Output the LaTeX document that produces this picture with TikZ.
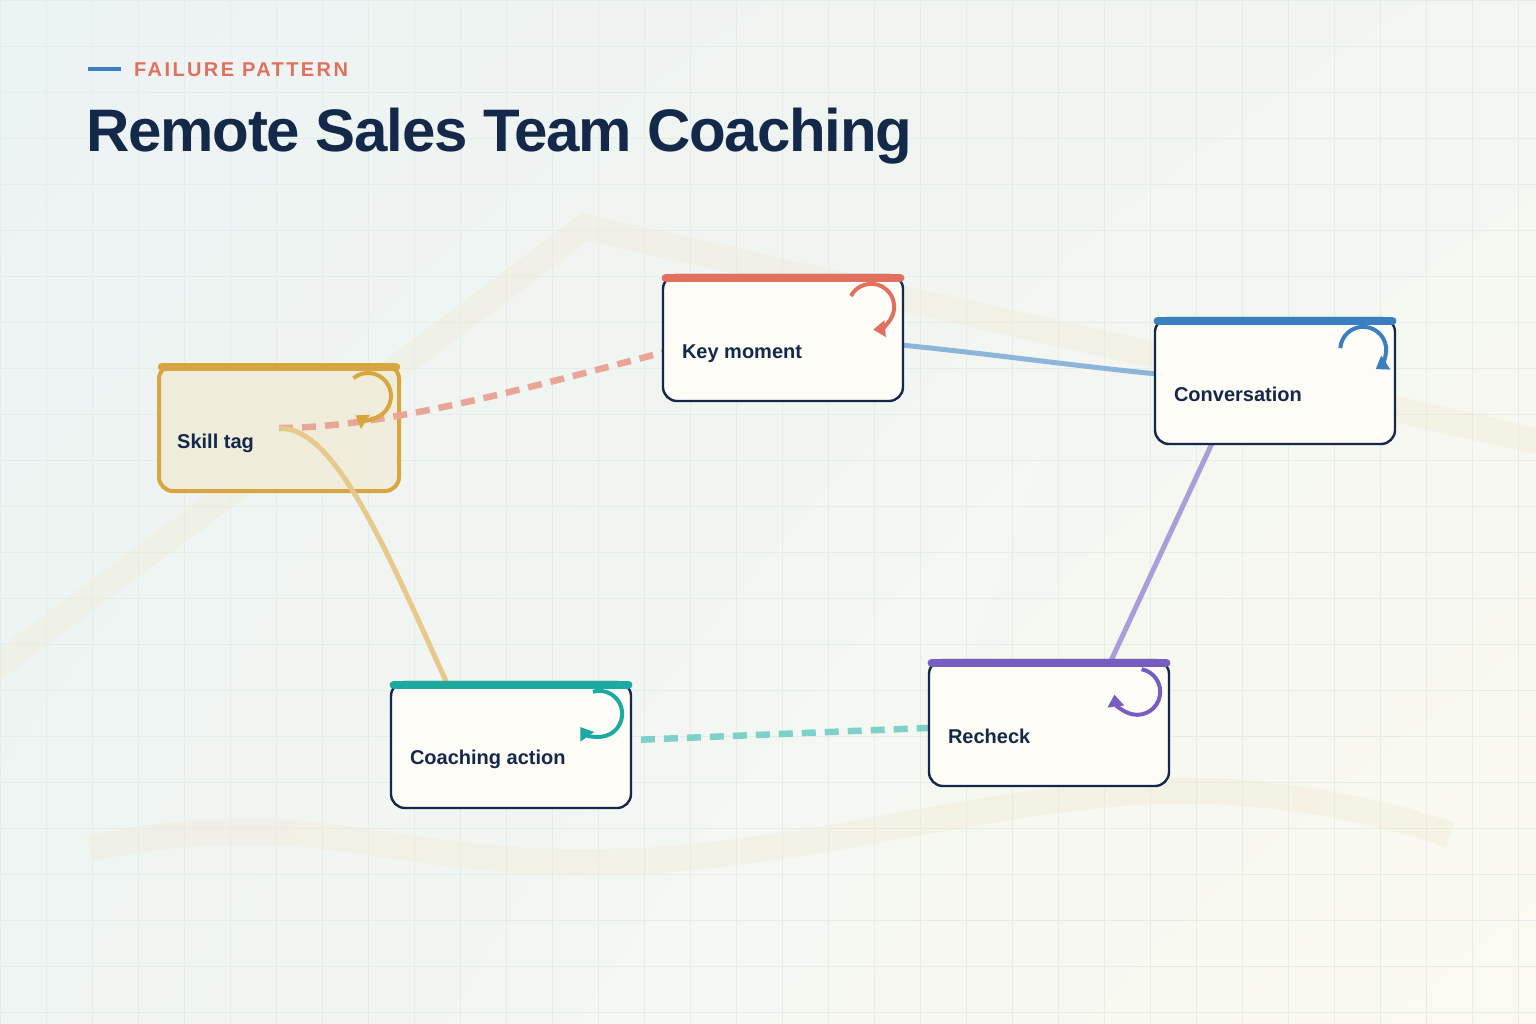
\documentclass[tikz,border=0pt]{standalone}
\usepackage{fontspec}
\setmainfont{Liberation Sans}
\usetikzlibrary{arrows.meta,shadings}

\definecolor{ink}{HTML}{14284A}
\definecolor{cardfill}{HTML}{FDFCF6}
\definecolor{kmred}{HTML}{E2705F}
\definecolor{convblue}{HTML}{3A7FC0}
\definecolor{coachteal}{HTML}{1BAA9F}
\definecolor{rcpurple}{HTML}{775DBF}
\definecolor{skillgold}{HTML}{D8A640}
\definecolor{skillfill}{HTML}{F1EBD7}
\definecolor{salmonlt}{HTML}{E9A696}
\definecolor{bluelt}{HTML}{8DB5DA}
\definecolor{lavlt}{HTML}{AA9DD9}
\definecolor{teallt}{HTML}{7ED1C8}
\definecolor{goldlt}{HTML}{E6C98B}
\definecolor{bandc}{HTML}{F1E9D0}
\definecolor{gridc}{HTML}{E5EDEB}
\definecolor{bgtl}{HTML}{ECF3F3}
\definecolor{bgtr}{HTML}{F3F6F1}
\definecolor{bgbl}{HTML}{EFF5F2}
\definecolor{bgbr}{HTML}{FBFAF1}

\pgfdeclarelayer{bgl}
\pgfdeclarelayer{links}
\pgfsetlayers{bgl,links,main}

\tikzset{
  card/.style={draw=ink, line width=2.4pt, fill=cardfill, rounded corners=14pt,
    minimum width=240pt, minimum height=126pt, inner sep=0pt},
  skillcard/.style={card, draw=skillgold, line width=4pt, fill=skillfill, fill opacity=.8},
  lbl/.style={font=\bfseries\fontsize{20}{22}\selectfont, text=ink, anchor=base west, inner sep=0pt},
  topbar/.style={line width=8.5pt, line cap=round},
  cyc/.style={line width=4pt, -{Triangle[length=12pt,width=16pt]}},
  link/.style={line width=5pt},
  dashlink/.style={line width=6.5pt, dash pattern=on 14pt off 9pt},
  band/.style={line width=26pt, draw=bandc, draw opacity=.35},
  gridline/.style={draw=gridc, line width=.6pt},
}

% circular arrow in the top right corner of a card
\newcommand{\cycicon}[4]{%
  \draw[cyc, #4] ([shift={(-33,33)}]#1.north east) ++(#2:23) arc[start angle=#2, end angle=#3, radius=23];}

\begin{document}
\begin{tikzpicture}[x=1pt, y=-1pt]
    \useasboundingbox (0,0) rectangle (1536,1024);

    % background, grid and soft bands
    \begin{pgfonlayer}{bgl}
    \shade[upper left=bgtl, upper right=bgtr, lower left=bgbl, lower right=bgbr] (0,0) rectangle (1536,1024);
    \foreach \i in {0,...,33} {
        \draw[gridline] (\i*46,0) -- (\i*46,1024);
    }
    \foreach \j in {0,...,22} {
        \draw[gridline] (0,\j*46) -- (1536,\j*46);
    }
    \draw[band] (-10,672) -- (585,227) -- (1550,444);
    \draw[band] plot[smooth, tension=.7] coordinates {(90,849) (265,832) (637,861) (1160,791) (1450,835)};

    % faded card sits under the links
    \node[skillcard] (skill) at (279,428) {};
    \end{pgfonlayer}

    % header
    \draw[line width=4pt, convblue] (88,69) -- (121,69);
    \node[anchor=base west, inner sep=0pt, text=kmred, font=\bfseries\fontsize{20}{22}\selectfont\addfontfeatures{LetterSpace=12}] (kicker) at (134,77) {FAILURE PATTERN};
    \node[anchor=base west, inner sep=0pt, text=ink, font=\bfseries\fontsize{60}{64}\selectfont\addfontfeatures{LetterSpace=-2}] (title) at (86,152) {Remote Sales Team Coaching};

    % cards
    \node[card] (km) at (783,338) {};
    \node[card] (conv) at (1275,381) {};
    \node[card] (coach) at (511,745) {};
    \node[card] (rc) at (1049,723) {};

    % links
    \begin{pgfonlayer}{links}
    \draw[link, bluelt] (km.center) to[out=0, in=180, looseness=.7] (conv.center);
    \draw[dashlink, salmonlt] (skill.center) .. controls +(110,0) and +(-120,31) .. ([xshift=3pt,yshift=-14pt]km.west);
    \draw[link, goldlt] (skill.center) .. controls +(61,0) and +(-85,-185) .. ([xshift=-36pt]coach.center);
    \draw[link, lavlt] ([xshift=-34pt]conv.center) -- ([xshift=33pt]rc.center);
    \draw[dashlink, teallt, dash phase=8pt] (coach.center) -- (rc.center);
    \end{pgfonlayer}

    % coloured top bars
    \draw[topbar, skillgold] ([xshift=5pt,yshift=-4pt]skill.north west) -- ([xshift=-5pt,yshift=-4pt]skill.north east);
    \draw[topbar, kmred] ([xshift=4pt,yshift=-4pt]km.north west) -- ([xshift=-4pt,yshift=-4pt]km.north east);
    \draw[topbar, convblue] ([xshift=4pt,yshift=-4pt]conv.north west) -- ([xshift=-4pt,yshift=-4pt]conv.north east);
    \draw[topbar, coachteal] ([xshift=4pt,yshift=-4pt]coach.north west) -- ([xshift=-4pt,yshift=-4pt]coach.north east);
    \draw[topbar, rcpurple] ([xshift=4pt,yshift=-4pt]rc.north west) -- ([xshift=-4pt,yshift=-4pt]rc.north east);

    % labels
    \node[lbl] (skillL) at ([xshift=20pt,yshift=-20pt]skill.west) {Skill tag};
    \node[lbl] (kmL) at ([xshift=20pt,yshift=-20pt]km.west) {Key moment};
    \node[lbl] (convL) at ([xshift=20pt,yshift=-20pt]conv.west) {Conversation};
    \node[lbl] (coachL) at ([xshift=20pt,yshift=-19pt]coach.west) {Coaching action};
    \node[lbl] (rcL) at ([xshift=20pt,yshift=-20pt]rc.west) {Recheck};

    % cycle icons
    \cycicon{skill}{-129}{123}{skillgold}
    \cycicon{km}{-152}{85}{kmred}
    \cycicon{conv}{-176}{57}{convblue}
    \cycicon{coach}{-106}{145}{coachteal}
    \cycicon{rc}{-79}{173}{rcpurple}
\end{tikzpicture}
\end{document}
